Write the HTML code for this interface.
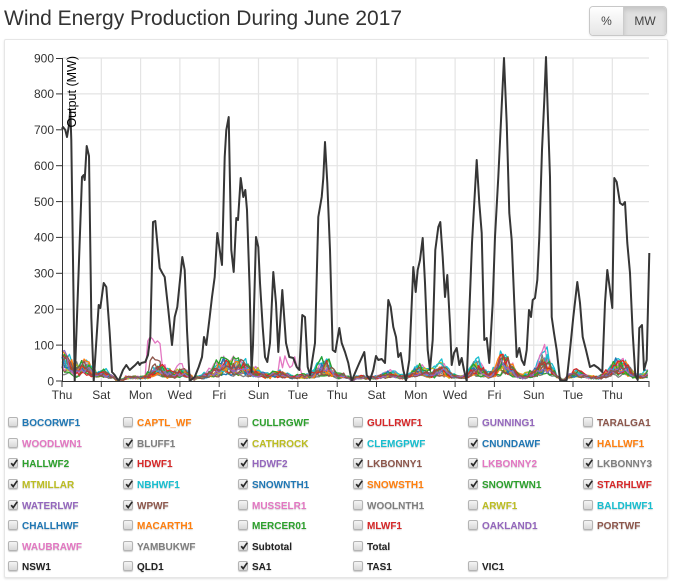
<!DOCTYPE html>
<html>
<head>
<meta charset="utf-8">
<style>
  html,body{margin:0;padding:0;background:#fff;}
  body{width:676px;height:586px;position:relative;overflow:hidden;font-family:"Liberation Sans",Arial,sans-serif;}
  .title{position:absolute;left:4px;top:7px;font-size:21px;line-height:24px;color:#333;white-space:nowrap;}
  .btns{position:absolute;left:589px;top:6px;width:78px;height:30px;border:1px solid #c8c8c8;border-radius:4px;box-sizing:border-box;overflow:hidden;display:flex;box-shadow:0 1px 2px rgba(0,0,0,.08);}
  .btns div{height:100%;display:flex;align-items:center;justify-content:center;font-size:12px;color:#444;}
  .b1{width:33px;background:linear-gradient(#fff,#e6e6e6);border-right:1px solid #ccc;}
  .b2{flex:1;background:#e0e0e0;box-shadow:inset 0 3px 5px rgba(0,0,0,.12);}
  .card{position:absolute;left:4px;top:39px;width:664px;height:539px;box-sizing:border-box;border:1px solid #e6e6e6;border-radius:2px;box-shadow:0 1px 2px rgba(0,0,0,.12);background:#fff;}
  svg.chart{position:absolute;left:0;top:0;}
  .legend{position:absolute;left:8px;top:412px;display:grid;grid-template-columns:repeat(6,115px);grid-auto-rows:20.6px;}
  .it{display:flex;align-items:center;white-space:nowrap;}
  .cb{width:10px;height:10px;box-sizing:border-box;border:1px solid #b4b4b4;border-radius:2px;background:linear-gradient(#f4f4f4,#d8d8d8);box-shadow:0 1px 1px rgba(0,0,0,.2);position:relative;flex:none;}
  .cb svg{position:absolute;left:0;top:-1px;}
  .lb{margin-left:4px;font-size:10px;font-weight:bold;position:relative;top:1.5px;text-shadow:0 1px 1px rgba(0,0,0,.18);}
  .c0{color:#1f77b4}.c1{color:#ff7f0e}.c2{color:#2ca02c}.c3{color:#d62728}.c4{color:#9467bd}
  .c5{color:#8c564b}.c6{color:#e377c2}.c7{color:#7f7f7f}.c8{color:#bcbd22}.c9{color:#17becf}.ck{color:#222}
</style>
</head>
<body>
<div class="title">Wind Energy Production During June 2017</div>
<div class="btns"><div class="b1">%</div><div class="b2">MW</div></div>
<div class="card"></div>

<svg class="chart" width="676" height="586" xmlns="http://www.w3.org/2000/svg">
  <g stroke="#e4e4e4" stroke-width="1.2" fill="none">
    <line x1="62" y1="58" x2="649" y2="58"/>
    <line x1="62" y1="93.9" x2="649" y2="93.9"/>
    <line x1="62" y1="129.8" x2="649" y2="129.8"/>
    <line x1="62" y1="165.7" x2="649" y2="165.7"/>
    <line x1="62" y1="201.6" x2="649" y2="201.6"/>
    <line x1="62" y1="237.4" x2="649" y2="237.4"/>
    <line x1="62" y1="273.3" x2="649" y2="273.3"/>
    <line x1="62" y1="309.2" x2="649" y2="309.2"/>
    <line x1="62" y1="345.1" x2="649" y2="345.1"/>
    <line x1="101.3" y1="58" x2="101.3" y2="381"/>
    <line x1="140.6" y1="58" x2="140.6" y2="381"/>
    <line x1="179.9" y1="58" x2="179.9" y2="381"/>
    <line x1="219.2" y1="58" x2="219.2" y2="381"/>
    <line x1="258.5" y1="58" x2="258.5" y2="381"/>
    <line x1="297.9" y1="58" x2="297.9" y2="381"/>
    <line x1="337.2" y1="58" x2="337.2" y2="381"/>
    <line x1="376.5" y1="58" x2="376.5" y2="381"/>
    <line x1="415.8" y1="58" x2="415.8" y2="381"/>
    <line x1="455.1" y1="58" x2="455.1" y2="381"/>
    <line x1="494.4" y1="58" x2="494.4" y2="381"/>
    <line x1="533.7" y1="58" x2="533.7" y2="381"/>
    <line x1="573" y1="58" x2="573" y2="381"/>
    <line x1="612.3" y1="58" x2="612.3" y2="381"/>
  </g>

  <g id="farms" fill="none" stroke-width="1.3" stroke-linejoin="round"></g>

  <polyline id="subtotal" fill="none" stroke="#363636" stroke-width="2" stroke-linejoin="round" points="62,129 63,127 65.3,130 67,137 69,125 70.3,110 71.3,140 74.7,381 82,177 83.7,175 84.7,180 86.7,146 89,156 91.3,317 93.7,381 98.7,305 100.3,308 103.7,283 106.3,287 109.7,333 112,372 114.7,375 118.7,381 123,370 126.3,365 129.7,370 133,367 135.3,365 138,362 139.7,365 141.3,363 145.3,362 148,355 150.3,337 153,222 155.3,221 157.3,243 159.7,268 162.3,273 164.7,277 168,307 172,345 174.7,317 177.3,307 182.3,257 184.7,270 187,330 189.7,381 194.7,377 198.7,367 202,357 204,337 206.3,345 209.7,317 212,297 214.7,277 217.3,233 219.7,250 222,265 224.7,157 226.3,130 228.7,117 231.3,250 233.7,272 236.3,218 238,220 240.7,178 243.3,197 245.3,190 247,210 249.7,290 251.5,372 253,345 256,237 258.3,247 260,283 262.7,327 265,357 267.3,362 270,343 273.3,272 276,303 278.3,352 282.3,290 286,343 289.3,357 293.3,358 296.7,367 299.3,370 302.3,315 305,317 307.7,367 310,375 315,343 318.3,217 321.7,197 323.3,178 325,142 327.3,183 330,250 332.7,350 335.3,352 339.3,328 341.7,343 345,352 348.3,363 351.7,381 355,373 359.3,363 364.3,352 366.7,375 370,380 373.3,370 376,356 378.3,360 381.7,359 385,363 388.3,300 390.7,307 393.3,327 396,337 398.3,357 400.7,353 403.3,370 406,381 409.3,360 413.3,267 415.7,292 417.7,270 420,260 422.7,238 425,283 427.7,350 430,370 432.7,340 435.3,250 438.3,227 440.3,222 442.7,257 445,297 447.3,275 450,325 451.7,365 454,353 456.7,348 459.3,365 461.7,358 464,370 466.7,381 469.3,313 472,243 476.7,160 479.3,203 481.7,233 484.3,340 486.7,338 489.3,363 492.7,303 495,237 498.3,177 500.7,127 504,58 506.7,123 509.3,213 511.7,240 514.3,303 516.7,357 519.3,348 521.7,360 524.3,365 526.7,350 529,310 531,317 532.7,300 535,298 537.3,280 539.3,237 542,150 544.3,100 546,57 547.7,110 550,177 551.7,317 554,333 556.7,350 560,380 563.3,381 566.7,380 570,350 573.3,317 577.3,282 580,303 582.7,337 586,350 590,367 594,365 598.3,368 602.3,372 605,303 607.3,270 610,290 612.3,308 614.3,178 616.7,182 620,203 622.7,205 625,202 627.3,243 630,273 632.7,333 635.3,375 637.7,380 639.3,328 642,325 644,370 646.7,360 649.3,253"/>

  <g stroke="#333" stroke-width="1" fill="none">
    <path d="M56,58.5H62.5V381H56"/>
    <path d="M62,387V381.5H649V387"/>
    <line x1="56" y1="93.9" x2="62" y2="93.9"/>
    <line x1="56" y1="129.8" x2="62" y2="129.8"/>
    <line x1="56" y1="165.7" x2="62" y2="165.7"/>
    <line x1="56" y1="201.6" x2="62" y2="201.6"/>
    <line x1="56" y1="237.4" x2="62" y2="237.4"/>
    <line x1="56" y1="273.3" x2="62" y2="273.3"/>
    <line x1="56" y1="309.2" x2="62" y2="309.2"/>
    <line x1="56" y1="345.1" x2="62" y2="345.1"/>
    <line x1="101.3" y1="381" x2="101.3" y2="387"/>
    <line x1="140.6" y1="381" x2="140.6" y2="387"/>
    <line x1="179.9" y1="381" x2="179.9" y2="387"/>
    <line x1="219.2" y1="381" x2="219.2" y2="387"/>
    <line x1="258.5" y1="381" x2="258.5" y2="387"/>
    <line x1="297.9" y1="381" x2="297.9" y2="387"/>
    <line x1="337.2" y1="381" x2="337.2" y2="387"/>
    <line x1="376.5" y1="381" x2="376.5" y2="387"/>
    <line x1="415.8" y1="381" x2="415.8" y2="387"/>
    <line x1="455.1" y1="381" x2="455.1" y2="387"/>
    <line x1="494.4" y1="381" x2="494.4" y2="387"/>
    <line x1="533.7" y1="381" x2="533.7" y2="387"/>
    <line x1="573" y1="381" x2="573" y2="387"/>
    <line x1="612.3" y1="381" x2="612.3" y2="387"/>
  </g>

  <g font-family="Liberation Sans, Arial, sans-serif" font-size="12" fill="#333" text-anchor="end">
    <text x="54" y="62.3">900</text>
    <text x="54" y="98.2">800</text>
    <text x="54" y="134.1">700</text>
    <text x="54" y="170">600</text>
    <text x="54" y="205.9">500</text>
    <text x="54" y="241.7">400</text>
    <text x="54" y="277.6">300</text>
    <text x="54" y="313.5">200</text>
    <text x="54" y="349.4">100</text>
    <text x="54" y="385.3">0</text>
  </g>
  <g font-family="Liberation Sans, Arial, sans-serif" font-size="12" fill="#333" text-anchor="middle">
    <text x="62" y="399">Thu</text>
    <text x="101.3" y="399">Sat</text>
    <text x="140.6" y="399">Mon</text>
    <text x="179.9" y="399">Wed</text>
    <text x="219.2" y="399">Fri</text>
    <text x="258.5" y="399">Sun</text>
    <text x="297.9" y="399">Tue</text>
    <text x="337.2" y="399">Thu</text>
    <text x="376.5" y="399">Sat</text>
    <text x="415.8" y="399">Mon</text>
    <text x="455.1" y="399">Wed</text>
    <text x="494.4" y="399">Fri</text>
    <text x="533.7" y="399">Sun</text>
    <text x="573" y="399">Tue</text>
    <text x="612.3" y="399">Thu</text>
  </g>
  <text transform="translate(76,56) rotate(-90)" text-anchor="end" font-family="Liberation Sans, Arial, sans-serif" font-size="12.5" fill="#000">Output (MW)</text>
</svg>

<div class="legend">
  <div class="it"><span class="cb"></span><span class="lb c0">BOCORWF1</span></div>
  <div class="it"><span class="cb"></span><span class="lb c1">CAPTL_WF</span></div>
  <div class="it"><span class="cb"></span><span class="lb c2">CULLRGWF</span></div>
  <div class="it"><span class="cb"></span><span class="lb c3">GULLRWF1</span></div>
  <div class="it"><span class="cb"></span><span class="lb c4">GUNNING1</span></div>
  <div class="it"><span class="cb"></span><span class="lb c5">TARALGA1</span></div>

  <div class="it"><span class="cb"></span><span class="lb c6">WOODLWN1</span></div>
  <div class="it"><span class="cb k"></span><span class="lb c7">BLUFF1</span></div>
  <div class="it"><span class="cb k"></span><span class="lb c8">CATHROCK</span></div>
  <div class="it"><span class="cb k"></span><span class="lb c9">CLEMGPWF</span></div>
  <div class="it"><span class="cb k"></span><span class="lb c0">CNUNDAWF</span></div>
  <div class="it"><span class="cb k"></span><span class="lb c1">HALLWF1</span></div>

  <div class="it"><span class="cb k"></span><span class="lb c2">HALLWF2</span></div>
  <div class="it"><span class="cb k"></span><span class="lb c3">HDWF1</span></div>
  <div class="it"><span class="cb k"></span><span class="lb c4">HDWF2</span></div>
  <div class="it"><span class="cb k"></span><span class="lb c5">LKBONNY1</span></div>
  <div class="it"><span class="cb k"></span><span class="lb c6">LKBONNY2</span></div>
  <div class="it"><span class="cb k"></span><span class="lb c7">LKBONNY3</span></div>

  <div class="it"><span class="cb k"></span><span class="lb c8">MTMILLAR</span></div>
  <div class="it"><span class="cb k"></span><span class="lb c9">NBHWF1</span></div>
  <div class="it"><span class="cb k"></span><span class="lb c0">SNOWNTH1</span></div>
  <div class="it"><span class="cb k"></span><span class="lb c1">SNOWSTH1</span></div>
  <div class="it"><span class="cb k"></span><span class="lb c2">SNOWTWN1</span></div>
  <div class="it"><span class="cb k"></span><span class="lb c3">STARHLWF</span></div>

  <div class="it"><span class="cb k"></span><span class="lb c4">WATERLWF</span></div>
  <div class="it"><span class="cb k"></span><span class="lb c5">WPWF</span></div>
  <div class="it"><span class="cb"></span><span class="lb c6">MUSSELR1</span></div>
  <div class="it"><span class="cb"></span><span class="lb c7">WOOLNTH1</span></div>
  <div class="it"><span class="cb"></span><span class="lb c8">ARWF1</span></div>
  <div class="it"><span class="cb"></span><span class="lb c9">BALDHWF1</span></div>

  <div class="it"><span class="cb"></span><span class="lb c0">CHALLHWF</span></div>
  <div class="it"><span class="cb"></span><span class="lb c1">MACARTH1</span></div>
  <div class="it"><span class="cb"></span><span class="lb c2">MERCER01</span></div>
  <div class="it"><span class="cb"></span><span class="lb c3">MLWF1</span></div>
  <div class="it"><span class="cb"></span><span class="lb c4">OAKLAND1</span></div>
  <div class="it"><span class="cb"></span><span class="lb c5">PORTWF</span></div>

  <div class="it"><span class="cb"></span><span class="lb c6">WAUBRAWF</span></div>
  <div class="it"><span class="cb"></span><span class="lb c7">YAMBUKWF</span></div>
  <div class="it"><span class="cb k"></span><span class="lb ck">Subtotal</span></div>
  <div class="it"><span class="cb"></span><span class="lb ck">Total</span></div>
  <div class="it"></div>
  <div class="it"></div>

  <div class="it"><span class="cb"></span><span class="lb ck">NSW1</span></div>
  <div class="it"><span class="cb"></span><span class="lb ck">QLD1</span></div>
  <div class="it"><span class="cb k"></span><span class="lb ck">SA1</span></div>
  <div class="it"><span class="cb"></span><span class="lb ck">TAS1</span></div>
  <div class="it"><span class="cb"></span><span class="lb ck">VIC1</span></div>
  <div class="it"></div>
</div>

<script>
(function(){
  var cks=document.querySelectorAll('.cb.k');
  for(var i=0;i<cks.length;i++){
    cks[i].innerHTML='<svg width="10" height="10" viewBox="0 0 10 10"><path d="M2.2 5.2 L4.2 7.6 L8.2 1.8" fill="none" stroke="#2a2a2a" stroke-width="1.7"/></svg>';
  }
  var pts=document.getElementById('subtotal').getAttribute('points').trim().split(/\s+/).map(function(p){var a=p.split(',');return [parseFloat(a[0]),parseFloat(a[1])];});
  var K=0.3589;
  function S(x){
    if(x<=pts[0][0]) return (381-pts[0][1])/K;
    for(var i=1;i<pts.length;i++){
      if(x<=pts[i][0]){
        var a=pts[i-1],b=pts[i];var t=(x-a[0])/(b[0]-a[0]||1);
        var y=a[1]+(b[1]-a[1])*t;return Math.max(0,(381-y)/K);
      }
    }
    return (381-pts[pts.length-1][1])/K;
  }
  var seed=987654;
  function rnd(){seed|=0;seed=seed+0x6D2B79F5|0;var t=Math.imul(seed^seed>>>15,1|seed);t=t+Math.imul(t^t>>>7,61|t)^t;return((t^t>>>14)>>>0)/4294967296;}
  var cols=['#7f7f7f','#bcbd22','#17becf','#1f77b4','#ff7f0e','#2ca02c','#d62728','#9467bd','#8c564b','#e377c2','#7f7f7f','#bcbd22','#17becf','#1f77b4','#ff7f0e','#2ca02c','#d62728','#9467bd','#8c564b'];
  var g=document.getElementById('farms');
  var ns='http://www.w3.org/2000/svg';
  for(var f=0;f<cols.length;f++){
    var w=0.03+rnd()*0.08;
    var cap=65+rnd()*45;
    var n=rnd();
    var d=[];
    for(var x=62;x<=649.6;x+=2.45){
      n=0.5*n+0.5*rnd();
      var s=0.5*S(x)+0.25*S(x-5)+0.25*S(x+5);
      var v=s*w*(0.2+1.6*Math.pow(n,1.5))+rnd()*4+(s>30?3+rnd()*5:0);
      if(v>cap) v=cap-rnd()*10;
      if(f===9 && x>146 && x<160) v=95+rnd()*35;
      if(f===9 && x>278 && x<300) v=Math.max(v,35+rnd()*45);
      if(f===8 && x>150 && x<160) v=Math.max(v,50+rnd()*20);
      if(v<0) v=0;
      d.push(x.toFixed(1)+','+(381-v*K).toFixed(1));
    }
    var pl=document.createElementNS(ns,'polyline');
    pl.setAttribute('points',d.join(' '));
    pl.setAttribute('stroke',cols[f]);
    g.appendChild(pl);
  }
})();
</script>
</body>
</html>
